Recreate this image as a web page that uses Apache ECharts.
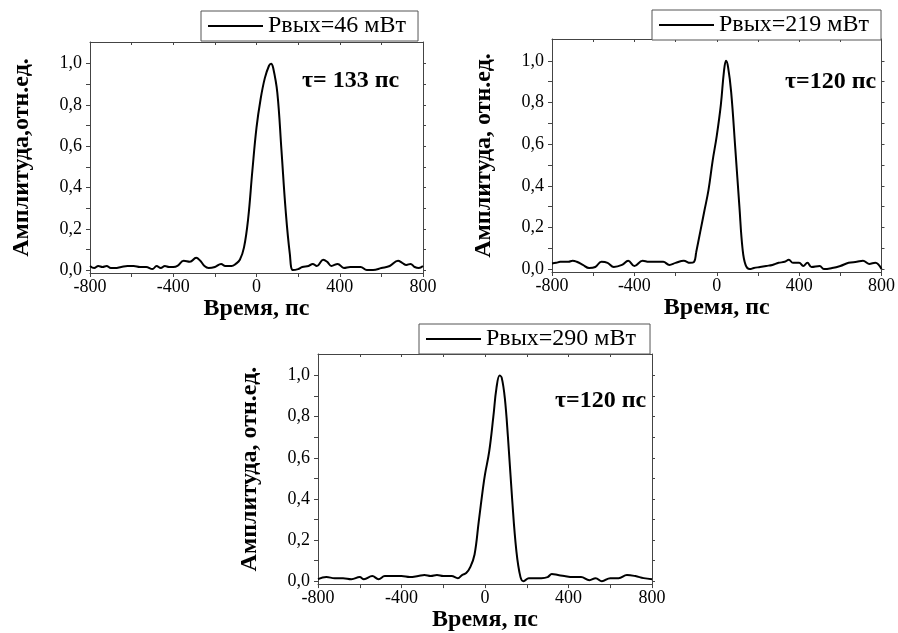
<!DOCTYPE html>
<html>
<head>
<meta charset="UTF-8">
<title></title>
<script src="https://cdn.jsdelivr.net/npm/echarts@6/dist/echarts.min.js"></script>
<style type="text/css">
  *{margin:0;padding:0;}
  #main{width:898px;height:633px;background:#fff;}
</style>
</head>
<body>
<div id="main"></div>
<script type="text/javascript">
// время, пс / амплитуда, отн.ед.
var t1 = [-800,-780,-760,-740,-720,-700,-680,-650,-620,-590,-560,-530,-500,-480,-460,-440,-420,-400,-380,-350,-320,-290,-270,-250,-230,-200,-170,-150,-120,-100,-80,-60,-40,-20,0,20,40,60,70,80,100,120,140,160,175,200,220,250,270,290,320,340,360,390,420,450,500,530,560,600,640,680,700,720,740,760,780,800];
var a1 = [0.02,0.01,0.02,0.015,0.02,0.01,0.01,0.015,0.02,0.02,0.015,0.015,0.005,0.02,0.01,0.02,0.015,0.015,0.02,0.045,0.04,0.06,0.045,0.02,0.01,0.015,0.03,0.02,0.02,0.03,0.05,0.11,0.25,0.48,0.69,0.83,0.93,0.99,1.0,0.98,0.86,0.58,0.29,0.08,0.0,0.005,0.015,0.02,0.03,0.02,0.05,0.04,0.02,0.03,0.01,0.015,0.015,0.0,0.0,0.01,0.02,0.045,0.035,0.025,0.03,0.015,0.01,0.02];

var t2 = [-800,-780,-760,-720,-700,-680,-650,-620,-590,-560,-530,-500,-460,-430,-400,-360,-330,-300,-260,-230,-200,-160,-130,-110,-100,-80,-60,-40,-20,0,20,35,45,55,70,90,110,125,140,160,180,210,240,270,300,330,350,370,400,420,440,460,500,520,560,600,640,680,710,740,770,800];
var a2 = [0.027,0.03,0.035,0.035,0.04,0.035,0.02,0.005,0.01,0.035,0.03,0.01,0.02,0.04,0.015,0.04,0.035,0.035,0.035,0.02,0.03,0.04,0.03,0.035,0.08,0.18,0.28,0.38,0.52,0.64,0.79,0.95,1.0,0.97,0.85,0.58,0.3,0.1,0.02,0.0,0.005,0.01,0.015,0.02,0.03,0.035,0.045,0.03,0.03,0.015,0.03,0.01,0.015,0.0,0.005,0.015,0.03,0.035,0.04,0.025,0.03,0.0];

var t3 = [-800,-760,-720,-680,-640,-600,-580,-540,-510,-480,-440,-400,-360,-320,-290,-260,-230,-200,-160,-130,-110,-90,-70,-50,-30,-10,0,20,40,55,70,80,95,110,130,150,170,185,210,240,270,300,320,350,380,420,460,500,530,560,600,640,680,720,760,800];
var a3 = [0.01,0.02,0.015,0.015,0.01,0.02,0.01,0.025,0.01,0.025,0.025,0.025,0.02,0.025,0.03,0.025,0.03,0.025,0.025,0.015,0.03,0.04,0.07,0.13,0.29,0.45,0.52,0.63,0.8,0.94,1.0,0.99,0.89,0.7,0.4,0.15,0.02,0.0,0.015,0.015,0.015,0.02,0.035,0.03,0.025,0.02,0.02,0.005,0.015,0.0,0.015,0.015,0.03,0.025,0.015,0.01];

var names = ['Рвых=46 мВт', 'Рвых=219 мВт', 'Рвых=290 мВт'];
var tauText = ['τ= 133 пс', 'τ=120 пс', 'τ=120 пс'];
var yNames = ['Амплитуда,отн.ед.', 'Амплитуда, отн.ед.', 'Амплитуда, отн.ед.'];
var yLabelVals = [0, 0.2, 0.4, 0.6, 0.8, 1.0];
var yTickVals = [0, 0.1, 0.2, 0.3, 0.4, 0.5, 0.6, 0.7, 0.8, 0.9, 1.0];

var grids = [
  {left: 90, top: 42, width: 333, height: 231},
  {left: 552, top: 39, width: 332, height: 233},
  {left: 318, top: 354, width: 334, height: 233}
];
var legendPos = [{left: 201, top: 11}, {left: 652, top: 10}, {left: 419, top: 324}];
var legendPad = [[3, 12, 3, 7], [3, 12, 3, 7], [3, 14, 3, 7]];
var tauPos = [[302, 82], [785, 83], [555, 402]];

var serif = 'Liberation Serif';
var axisCol = '#444';

function pairs(t, a) {
  var d = [];
  for (var i = 0; i < t.length; i++) d.push([t[i], a[i]]);
  return d;
}

var xAxes = [], yAxes = [], series = [], legends = [], graphics = [];
var allData = [pairs(t1, a1), pairs(t2, a2), pairs(t3, a3)];

for (var g = 0; g < 3; g++) {
  // нижняя ось
  xAxes.push({
    type: 'value', gridIndex: g, min: -800, max: 800, interval: 200,
    position: 'bottom',
    name: 'Время, пс', nameLocation: 'middle', nameGap: 22,
    nameTextStyle: {fontFamily: serif, fontSize: 24, fontWeight: 'bold', color: '#000'},
    splitLine: {show: false},
    axisLine: {onZero: false, lineStyle: {color: axisCol, width: 1}},
    axisTick: {inside: false, length: 4, lineStyle: {color: axisCol}},
    axisLabel: {
      margin: 5, fontFamily: serif, fontSize: 18, color: '#000',
      formatter: function (v) { return v % 400 === 0 ? String(v) : ''; }
    }
  });
  // верхняя ось (рамка)
  xAxes.push({
    type: 'value', gridIndex: g, min: -800, max: 800, interval: 200,
    position: 'top',
    splitLine: {show: false},
    axisLine: {onZero: false, lineStyle: {color: axisCol, width: 1}},
    axisTick: {inside: true, length: 3, lineStyle: {color: axisCol}},
    axisLabel: {show: false}
  });
  // левая ось
  yAxes.push({
    type: 'value', gridIndex: g, min: -0.014, max: 1.105,
    position: 'left',
    name: yNames[g], nameLocation: 'middle', nameGap: 56, nameRotate: 90,
    nameTextStyle: {fontFamily: serif, fontSize: 24, fontWeight: 'bold', color: '#000'},
    splitLine: {show: false},
    axisLine: {show: true, onZero: false, lineStyle: {color: axisCol, width: 1}},
    axisTick: {show: true, length: 4, customValues: yTickVals, lineStyle: {color: axisCol}},
    axisLabel: {
      margin: 8, fontFamily: serif, fontSize: 18, color: '#000',
      customValues: yLabelVals,
      formatter: function (v) { return v.toFixed(1).replace('.', ','); }
    }
  });
  // правая ось (рамка)
  yAxes.push({
    type: 'value', gridIndex: g, min: -0.014, max: 1.105,
    position: 'right',
    splitLine: {show: false},
    axisLine: {show: true, onZero: false, lineStyle: {color: axisCol, width: 1}},
    axisTick: {show: true, length: 3, customValues: yTickVals, lineStyle: {color: axisCol}},
    axisLabel: {show: false}
  });

  series.push({
    name: names[g], type: 'line',
    xAxisIndex: g * 2, yAxisIndex: g * 2,
    data: allData[g],
    smooth: 0.4, symbol: 'none',
    color: '#000',
    lineStyle: {color: '#000', width: 2},
    silent: true
  });

  legends.push({
    data: [names[g]],
    left: legendPos[g].left, top: legendPos[g].top,
    orient: 'horizontal',
    backgroundColor: '#fff',
    borderColor: '#555', borderWidth: 1, borderRadius: 0,
    padding: legendPad[g],
    icon: 'rect',
    itemWidth: 55, itemHeight: 2, itemGap: 0,
    itemStyle: {color: '#000'},
    textStyle: {fontFamily: serif, fontSize: 24, color: '#000'},
    selectedMode: false
  });

  graphics.push({
    type: 'text', left: tauPos[g][0], top: tauPos[g][1] - 13,
    style: {text: tauText[g], font: 'bold 24px "Liberation Serif"', fill: '#000'}
  });
}

var myChart = echarts.init(document.getElementById('main'));
var option = {
  backgroundColor: '#fff',
  animation: false,
  grid: grids,
  xAxis: xAxes,
  yAxis: yAxes,
  legend: legends,
  series: series,
  graphic: graphics
};
myChart.setOption(option);
</script>
</body>
</html>
